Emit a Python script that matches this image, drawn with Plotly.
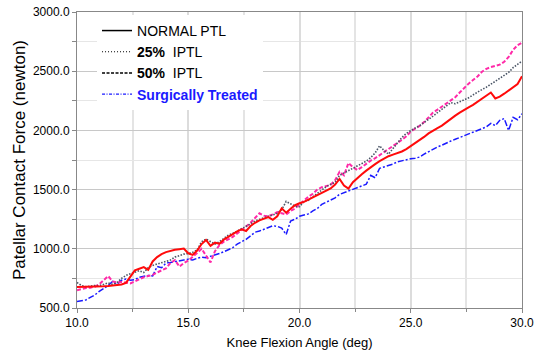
import plotly.graph_objects as go

# Knee flexion angle (deg), 10.0 .. 30.0 step 0.2
angle = [round(10 + 0.2 * i, 1) for i in range(101)]

normal_ptl = [
    678, 678, 677, 677, 678, 680, 683, 686, 689, 692,
    698, 712, 760, 818, 832, 845, 822, 893, 930, 955,
    972, 984, 992, 997, 1002, 962, 948, 985, 1040, 1075,
    1025, 1052, 1042, 1078, 1102, 1125, 1148, 1165, 1150, 1192,
    1220, 1240, 1255, 1268, 1245, 1275, 1342, 1305, 1338, 1368,
    1385, 1396, 1415, 1434, 1450, 1470, 1490, 1510, 1542, 1590,
    1535, 1508, 1562, 1600, 1630, 1660, 1690, 1715, 1740, 1762,
    1782, 1795, 1806, 1822, 1842, 1866, 1895, 1920, 1945, 1975,
    2000, 2020, 2040, 2070, 2100, 2125, 2150, 2175, 2195, 2215,
    2240, 2265, 2290, 2320, 2270, 2285, 2310, 2335, 2360, 2392,
    2458,
]

iptl_25 = [
    715, 690, 680, 685, 690, 688, 700, 712, 700, 715,
    750, 775, 790, 805, 815, 800, 840, 860, 870, 885,
    895, 905, 930, 945, 955, 960, 970, 990, 1060, 1082,
    1060, 1040, 1060, 1090, 1115, 1130, 1150, 1165, 1185, 1210,
    1235, 1250, 1265, 1275, 1285, 1300, 1330, 1400, 1380, 1360,
    1355, 1400, 1410, 1440, 1470, 1500, 1525, 1545, 1560, 1620,
    1640, 1660, 1680, 1700, 1720, 1740, 1770, 1810, 1870, 1830,
    1800, 1850, 1890, 1940, 1975, 2000, 2020, 2040, 2065, 2090,
    2120, 2150, 2180, 2210, 2235, 2225, 2240, 2260, 2275, 2300,
    2325, 2345, 2365, 2390, 2415, 2440, 2460, 2490, 2530, 2555,
    2585,
]

iptl_50 = [
    650, 660, 668, 672, 680, 700, 735, 770, 725, 715,
    720, 715, 708, 725, 745, 760, 770, 780, 800, 815,
    835, 880, 905, 850, 880, 900, 930, 965, 1000, 940,
    885, 980, 1030, 1060, 1080, 1100, 1130, 1160, 1190, 1220,
    1260, 1300, 1280, 1275, 1290, 1310, 1300, 1290, 1320, 1340,
    1375, 1410, 1440, 1465, 1500, 1520, 1530, 1540, 1580, 1650,
    1620, 1725, 1690, 1665, 1690, 1720, 1745, 1765, 1790, 1815,
    1840, 1865, 1890, 1920, 1950, 1990, 2015, 2038, 2070, 2110,
    2150, 2175, 2200, 2225, 2250, 2280, 2320, 2360, 2395, 2425,
    2455, 2495, 2520, 2535, 2545, 2555, 2580, 2620, 2680, 2720,
    2740,
]

surgical = [
    555, 560, 568, 590, 610, 640, 665, 690, 725, 700,
    735, 745, 735, 740, 760, 770, 775, 770, 850, 840,
    880, 885, 890, 900, 905, 912, 905, 920, 930, 925,
    935, 945, 960, 975, 990, 1010, 1040, 1060, 1080, 1110,
    1140, 1150, 1165, 1180, 1195, 1190, 1175, 1120, 1235, 1250,
    1275, 1285, 1295, 1320, 1340, 1375, 1395, 1410, 1430, 1460,
    1475, 1490, 1505, 1520, 1530, 1545, 1620, 1600, 1680, 1690,
    1705, 1715, 1735, 1745, 1750, 1760, 1765, 1775, 1800, 1820,
    1845, 1860, 1875, 1895, 1910, 1925, 1940, 1955, 1970, 1985,
    2000, 2015, 2030, 2060, 2040, 2085, 2100, 2000, 2110, 2090,
    2140,
]

legend_names = [
    "NORMAL PTL",
    "<b>25%</b>\u00a0\u00a0IPTL",
    "<b>50%</b>\u00a0\u00a0IPTL",
    "<span style='color:#1a1aff'><b>Surgically Treated</b></span>",
]

fig = go.Figure()

# data traces (colored), drawn bottom to top
fig.add_trace(go.Scatter(x=angle, y=surgical, mode="lines", showlegend=False,
                         line=dict(color="#1a1aff", width=1.5, dash="6px,2px,2px,2px")))
fig.add_trace(go.Scatter(x=angle, y=iptl_50, mode="lines", showlegend=False,
                         line=dict(color="#ff2aa8", width=2, dash="4px,2px")))
fig.add_trace(go.Scatter(x=angle, y=iptl_25, mode="lines", showlegend=False,
                         line=dict(color="#4a5566", width=1.6, dash="1.5px,1.5px")))
fig.add_trace(go.Scatter(x=angle, y=normal_ptl, mode="lines", showlegend=False,
                         line=dict(color="#ff0a0a", width=2)))

# legend entries (black samples as in the original)
leg_styles = [("black", "solid", 1.5), ("black", "1px,2px", 1.2),
              ("black", "3px,1.5px", 1.5), ("#1a1aff", "3px,1.5px,1px,1.5px", 1.3)]
for name, (c, d, w) in zip(legend_names, leg_styles):
    fig.add_trace(go.Scatter(x=[None], y=[None], mode="lines", name=name,
                             line=dict(color=c, dash=d, width=w)))

fig.update_layout(
    width=536, height=354,
    margin=dict(l=77, r=14, t=12, b=46),
    paper_bgcolor="white", plot_bgcolor="white",
    font=dict(family="Liberation Sans, Arial, sans-serif", color="black", size=12),
    legend=dict(
        x=0.045, y=0.99, xanchor="left", yanchor="top",
        bgcolor="white", borderwidth=0,
        font=dict(family="Liberation Sans, Arial", size=14, color="black"),
        tracegroupgap=0, itemwidth=30,
    ),
)

fig.update_xaxes(
    range=[10, 30], dtick=5, tick0=10, tickformat=".1f",
    showgrid=True, gridcolor="#dcdcdc", gridwidth=1.5,
    minor=dict(dtick=2.5, showgrid=True, gridcolor="#e4e4e4", gridwidth=1.5,
               ticks="outside", ticklen=3, tickcolor="#888"),
    ticks="outside", ticklen=4, tickcolor="#888",
    showline=True, linecolor="#888", linewidth=1, mirror=True,
    zeroline=False, automargin=False,
    tickfont=dict(size=12),
    title=dict(text="Knee Flexion Angle (deg)", font=dict(size=13), standoff=8),
)
fig.update_yaxes(
    range=[500, 3000], dtick=500, tick0=500, tickformat=".1f",
    showgrid=True, gridcolor="#c8c8c8", gridwidth=1,
    minor=dict(dtick=250, showgrid=True, gridcolor="#e6e6e6", gridwidth=1,
               ticks="outside", ticklen=4, tickcolor="#888"),
    ticks="outside", ticklen=4, tickcolor="#888",
    showline=True, linecolor="#888", linewidth=1, mirror=True,
    zeroline=False, automargin=False,
    tickfont=dict(size=12),
    title=dict(text="Patellar Contact Force (newton)", font=dict(size=17), standoff=2),
)

fig.write_html("out.html")
